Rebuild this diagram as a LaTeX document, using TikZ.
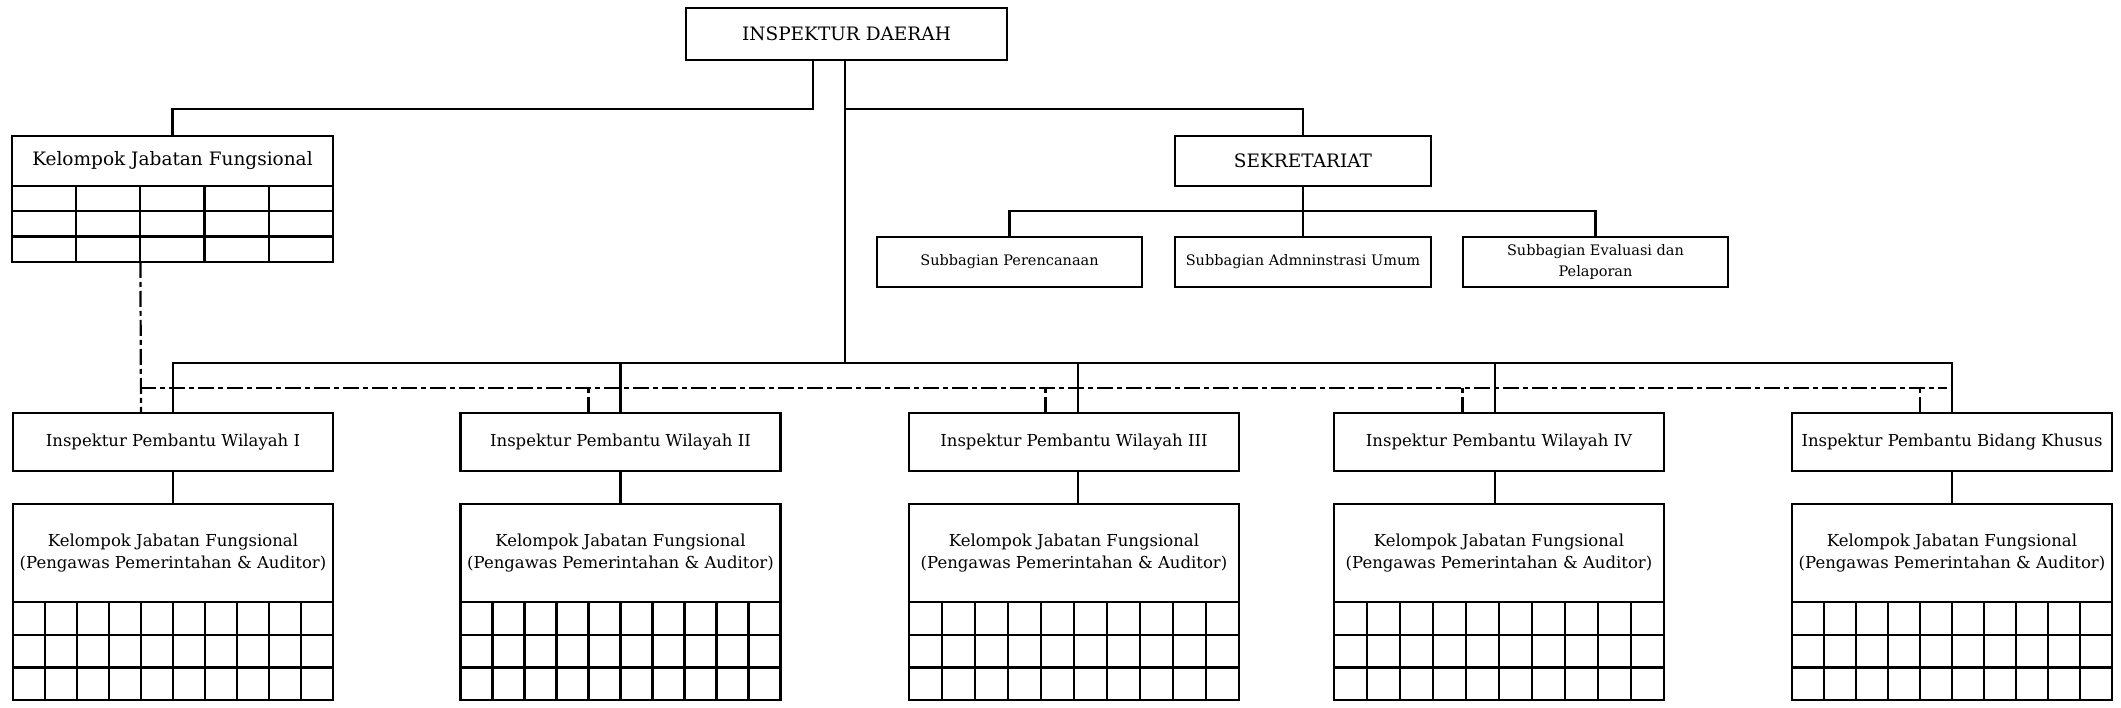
\documentclass[tikz,border=0pt]{standalone}
\usepackage{fontspec}
\setmainfont{DejaVu Serif}
\usetikzlibrary{calc}

\tikzset{
  unit/.style={draw, line width=2.2pt, inner sep=0pt, outer sep=0pt, align=center},
  topbox/.style={unit, minimum height=50pt, font=\fontsize{18.5}{23}\selectfont},
  subbox/.style={unit, minimum height=50pt, font=\fontsize{14.5}{21.7}\selectfont},
  wilbox/.style={unit, minimum height=58pt, font=\fontsize{16.5}{21.7}\selectfont},
  jfbox/.style={unit, minimum height=98pt, font=\fontsize{16.5}{21.7}\selectfont},
  conn/.style={line width=2.2pt},
  dashconn/.style={line width=2.2pt, dash pattern=on 16pt off 4pt on 5pt off 4pt},
}

\begin{document}
\begin{tikzpicture}[x=1pt,y=-1pt]
\useasboundingbox (0,0) rectangle (2121,708);

\node[topbox, minimum width=321pt, minimum height=52pt] (inspektur) at (846.5,34) {INSPEKTUR DAERAH};

\node[topbox, minimum width=321pt] (kjf) at (172.5,161) {Kelompok Jabatan Fungsional};
\node[topbox, minimum width=256pt] (sekre) at (1303,161) {SEKRETARIAT};

\node[subbox, minimum width=265pt] (renc) at (1009.5,262) {Subbagian Perencanaan};
\node[subbox, minimum width=256pt] (umum) at (1303,262) {Subbagian Admninstrasi Umum};
\node[subbox, minimum width=265pt] (evlap) at (1595.5,262) {Subbagian Evaluasi dan\\Pelaporan};

% inspektur pembantu
\node[wilbox, minimum width=320pt] (w1) at (173,442) {Inspektur Pembantu Wilayah I};
\node[wilbox, minimum width=320pt] (w2) at (620.5,442) {Inspektur Pembantu Wilayah II};
\node[wilbox, minimum width=330pt] (w3) at (1074,442) {Inspektur Pembantu Wilayah III};
\node[wilbox, minimum width=330pt] (w4) at (1499,442) {Inspektur Pembantu Wilayah IV};
\node[wilbox, minimum width=320pt] (w5) at (1952,442) {Inspektur Pembantu Bidang Khusus};

% kelompok jabatan fungsional
\node[jfbox, minimum width=320pt] (jf1) at (173,553) {Kelompok Jabatan Fungsional\\(Pengawas Pemerintahan \& Auditor)};
\node[jfbox, minimum width=320pt] (jf2) at (620.5,553) {Kelompok Jabatan Fungsional\\(Pengawas Pemerintahan \& Auditor)};
\node[jfbox, minimum width=330pt] (jf3) at (1074,553) {Kelompok Jabatan Fungsional\\(Pengawas Pemerintahan \& Auditor)};
\node[jfbox, minimum width=330pt] (jf4) at (1499,553) {Kelompok Jabatan Fungsional\\(Pengawas Pemerintahan \& Auditor)};
\node[jfbox, minimum width=320pt] (jf5) at (1952,553) {Kelompok Jabatan Fungsional\\(Pengawas Pemerintahan \& Auditor)};

% grids
\draw[conn] (kjf.south west) rectangle ($(kjf.south east)+(0,76)$);
\foreach \i in {1,...,4}
  \draw[conn] ($(kjf.south west)!\i/5!(kjf.south east)$) -- ++(0,76);
\foreach \j in {1,2}
  \draw[conn] ($(kjf.south west)+(0,\j*25.3)$) -- ($(kjf.south east)+(0,\j*25.3)$);

\foreach \k in {jf1,jf2,jf3,jf4,jf5} {
  \draw[conn] (\k.south west) rectangle ($(\k.south east)+(0,98)$);
  \foreach \i in {1,...,9}
    \draw[conn] ($(\k.south west)!\i/10!(\k.south east)$) -- ++(0,98);
  \foreach \j in {1,2}
    \draw[conn] ($(\k.south west)+(0,\j*32.7)$) -- ($(\k.south east)+(0,\j*32.7)$);
}

% connectors
\draw[conn] ([xshift=-33.5pt]inspektur.south) -- ++(0,49) -| (kjf.north);
\draw[conn] ([xshift=-1.5pt]inspektur.south) -- ++(0,303) coordinate (bus);
\draw[conn] ([xshift=-1.5pt,yshift=-49pt]inspektur.south) -| (sekre.north);
\draw[conn] (sekre.south) -- (umum.north);
\draw[conn] (renc.north) |- ($(sekre.south)+(0,25)$) -| (evlap.north);

\draw[conn] (w1.north) |- (bus) -| (w5.north);
\foreach \i/\s in {1/0, 2/0, 3/4, 4/-4, 5/0} {
  \draw[conn] ([xshift=\s pt]w\i.north) -- ++(0,-50);
  \draw[conn] ([xshift=\s pt]w\i.south) -- ([xshift=\s pt]jf\i.north);
}

% garis koordinasi
\coordinate (kjfdash) at ($(kjf.south west)!0.4!(kjf.south east)+(0,76)$);
\coordinate (dashend) at (1947,388);
\draw[dashconn] (kjfdash) -- ([xshift=-32pt]w1.north);
\draw[dashconn] (kjfdash |- dashend) -- (dashend);
\foreach \w/\s in {w2/32, w3/28.5, w4/36.5, w5/32}
  \draw[dashconn] ([xshift=-\s pt]\w.north) -- ++(0,-25);
\end{tikzpicture}
\end{document}
